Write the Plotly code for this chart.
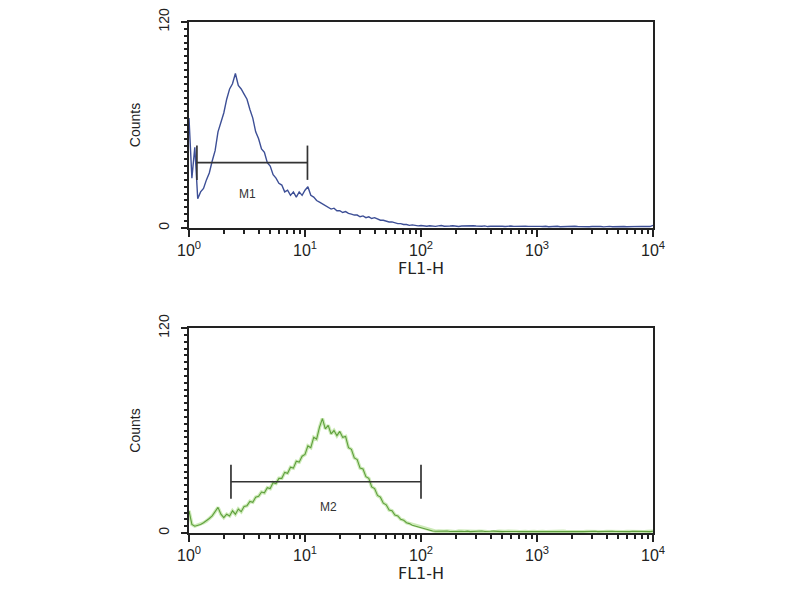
import plotly.graph_objects as go

# FL1-H channel grid: 40 channels per decade, 10^0 .. 10^4
MANTISSA = [1.000, 1.059, 1.122, 1.189, 1.259, 1.334, 1.413, 1.496, 1.585, 1.679,
            1.778, 1.884, 1.995, 2.113, 2.239, 2.371, 2.512, 2.661, 2.818, 2.985,
            3.162, 3.350, 3.548, 3.758, 3.981, 4.217, 4.467, 4.732, 5.012, 5.309,
            5.623, 5.957, 6.310, 6.683, 7.079, 7.499, 7.943, 8.414, 8.913, 9.441]
CHANNELS = [m * 10 ** d for d in range(4) for m in MANTISSA] + [10000.0]

# top histogram (blue), counts per channel
TOP_COUNTS = [
    64, 29, 47, 17, 21, 23, 28, 32, 39, 45,
    56, 61, 67, 75, 81, 84, 90, 83, 81, 78,
    75, 69, 64, 56, 52, 46, 44, 38, 36, 31,
    29, 26, 25, 21, 22, 19, 21, 18, 21, 19,
    22, 24, 19, 18, 16, 15, 14, 13, 12.5, 11,
    11.5, 10, 10, 9, 9.5, 8.5, 8, 7.5, 7.5, 6.5,
    7, 6, 6.5, 5.5, 6, 5, 4.5, 4.5, 4, 3.5,
    3.5, 3, 2.5, 2.5, 2, 2, 1.5, 1.8, 1.5, 1.2,
    1.4, 1.2, 1.0, 1.3, 1.1, 0.9, 1.2, 1.4, 1.0, 0.9,
    1.1, 1.3, 1.0, 0.8, 1.1, 1.2, 0.9, 1.0, 1.3, 1.1,
    0.9, 1.0, 1.2, 0.8, 1.0, 1.1, 0.9, 1.2, 1.0, 0.8,
    1.0, 1.1, 0.9, 1.0, 0.8, 1.1, 1.0, 0.9, 1.0, 0.8,
    1.0, 0.9, 0.8, 1.0, 0.7, 0.9, 0.8, 1.0, 0.7, 0.8,
    0.9, 0.7, 0.8, 1.0, 0.8, 0.7, 0.9, 0.8, 0.7, 0.8,
    0.9, 0.7, 0.8, 0.6, 0.8, 0.9, 0.7, 0.8, 0.7, 0.9,
    0.8, 0.7, 0.8, 0.6, 0.8, 0.7, 0.9, 0.8, 0.7, 0.8,
    1.5,
]

# bottom histogram (green), counts per channel
BOTTOM_COUNTS = [
    13, 5, 4, 4.5, 5, 6, 7, 8.5, 10, 12.5,
    15, 11, 9, 11, 10, 13, 11, 14, 12.5, 15.5,
    16, 18.5, 18, 21, 21.5, 24, 23.5, 26.5, 26, 29.5,
    29, 32, 32, 35.5, 35, 38.5, 38, 42, 41.5, 45,
    46, 51, 50, 56, 55, 62, 67, 61, 63, 58,
    60, 57, 59.5, 56, 56.5, 50, 49, 44, 43, 38,
    37.5, 33, 32, 27, 26, 22, 21, 17.5, 16.5, 13.5,
    13, 10.5, 10, 8, 7.5, 6, 5.5, 4.5, 4, 3.5,
    3, 2.5, 2, 1.5, 1.2, 1.0, 1.1, 0.9, 1.0, 1.2,
    0.9, 1.0, 0.8, 1.1, 1.0, 0.9, 1.1, 0.8, 1.0, 0.9,
    1.0, 1.2, 0.9, 0.8, 1.0, 1.1, 0.9, 1.0, 0.8, 0.9,
    1.0, 0.8, 1.1, 0.9, 0.8, 1.0, 0.9, 0.8, 1.0, 0.9,
    0.8, 1.0, 0.9, 0.8, 0.9, 1.0, 0.8, 0.9, 0.8, 1.0,
    0.9, 0.8, 0.9, 0.8, 1.0, 0.9, 0.8, 0.9, 0.8, 0.9,
    1.0, 0.8, 0.9, 0.8, 0.9, 0.8, 1.0, 0.9, 0.8, 0.9,
    0.8, 0.9, 0.8, 1.0, 0.9, 0.8, 0.9, 0.8, 0.9, 0.8,
    1.0,
]

# gate markers: (label, start, end, level)
M1 = ("M1", 1.17, 10.5, 38)
M2 = ("M2", 2.3, 100, 30)
BAR_HALF = 10

DECADES = [1, 10, 100, 1000, 10000]
DECADE_LABELS = ["10<sup>0</sup>", "10<sup>1</sup>", "10<sup>2</sup>", "10<sup>3</sup>", "10<sup>4</sup>"]
MINOR_X = [k * 10 ** d for d in range(4) for k in range(2, 10)]

INK = "#222222"
FONT = "Liberation Sans, Arial, sans-serif"
WIDE_FONT = "DejaVu Sans, Liberation Sans, sans-serif"

fig = go.Figure()

# histograms
fig.add_trace(go.Scatter(x=CHANNELS, y=TOP_COUNTS, mode="lines",
                         line=dict(color="#3d4f96", width=1.4),
                         xaxis="x", yaxis="y", hoverinfo="skip"))
fig.add_trace(go.Scatter(x=CHANNELS, y=BOTTOM_COUNTS, mode="lines",
                         line=dict(color="#cdeab8", width=3.5),
                         xaxis="x2", yaxis="y2", hoverinfo="skip"))
fig.add_trace(go.Scatter(x=CHANNELS, y=BOTTOM_COUNTS, mode="lines",
                         line=dict(color="#5e9f3c", width=1.1),
                         xaxis="x2", yaxis="y2", hoverinfo="skip"))


def add_gate(gate, xa, ya):
    name, x0, x1, level = gate
    xs = [x0, x0, None, x0, x1, None, x1, x1]
    ys = [level - BAR_HALF, level + BAR_HALF, None, level, level, None,
          level - BAR_HALF, level + BAR_HALF]
    fig.add_trace(go.Scatter(x=xs, y=ys, mode="lines",
                             line=dict(color="#333333", width=1.7),
                             xaxis=xa, yaxis=ya, hoverinfo="skip"))


add_gate(M1, "x", "y")
add_gate(M2, "x2", "y2")

fig.add_annotation(x=0.5, y=20, xref="x", yref="y", text=M1[0], showarrow=False,
                   font=dict(size=12, color="#333333", family=FONT))
fig.add_annotation(x=1.2, y=15, xref="x2", yref="y2", text=M2[0], showarrow=False,
                   font=dict(size=12, color="#333333", family=FONT))

xaxis_common = dict(
    type="log", range=[0, 4], tickvals=DECADES, ticktext=DECADE_LABELS,
    ticks="outside", ticklen=7, tickwidth=1.5, tickcolor=INK,
    showline=True, linecolor=INK, linewidth=2, mirror=True,
    showgrid=False, zeroline=False, automargin=False,
    tickfont=dict(size=16, color=INK, family=FONT),
    minor=dict(tickvals=MINOR_X, ticks="outside", ticklen=4, tickcolor=INK, showgrid=False),
    title=dict(text="FL1-H", font=dict(size=16, color=INK, family=WIDE_FONT), standoff=0),
)
yaxis_common = dict(
    range=[0, 120], tickvals=[0, 120], ticktext=["0", "120"], tickangle=-90,
    ticks="outside", ticklen=6, tickwidth=1.5, tickcolor=INK, ticklabelstandoff=6,
    showline=True, linecolor=INK, linewidth=2, mirror=True,
    showgrid=False, zeroline=False, automargin=False,
    tickfont=dict(size=14, color=INK, family=FONT),
    minor=dict(dtick=4, ticks="outside", ticklen=3, tickcolor=INK, showgrid=False),
    title=dict(text="Counts", font=dict(size=14, color=INK, family=FONT), standoff=12),
)

# page body adds an 8px offset, so margins are shifted to land the frames in place
fig.update_layout(
    width=800, height=600,
    margin=dict(l=181, r=155, t=14, b=75),
    paper_bgcolor="white", plot_bgcolor="white",
    showlegend=False,
    xaxis=dict(domain=[0, 1], anchor="y", **xaxis_common),
    yaxis=dict(domain=[0.597, 1], anchor="x", **yaxis_common),
    xaxis2=dict(domain=[0, 1], anchor="y2", **xaxis_common),
    yaxis2=dict(domain=[0, 0.401], anchor="x2", **yaxis_common),
)

fig.write_html("out.html")
